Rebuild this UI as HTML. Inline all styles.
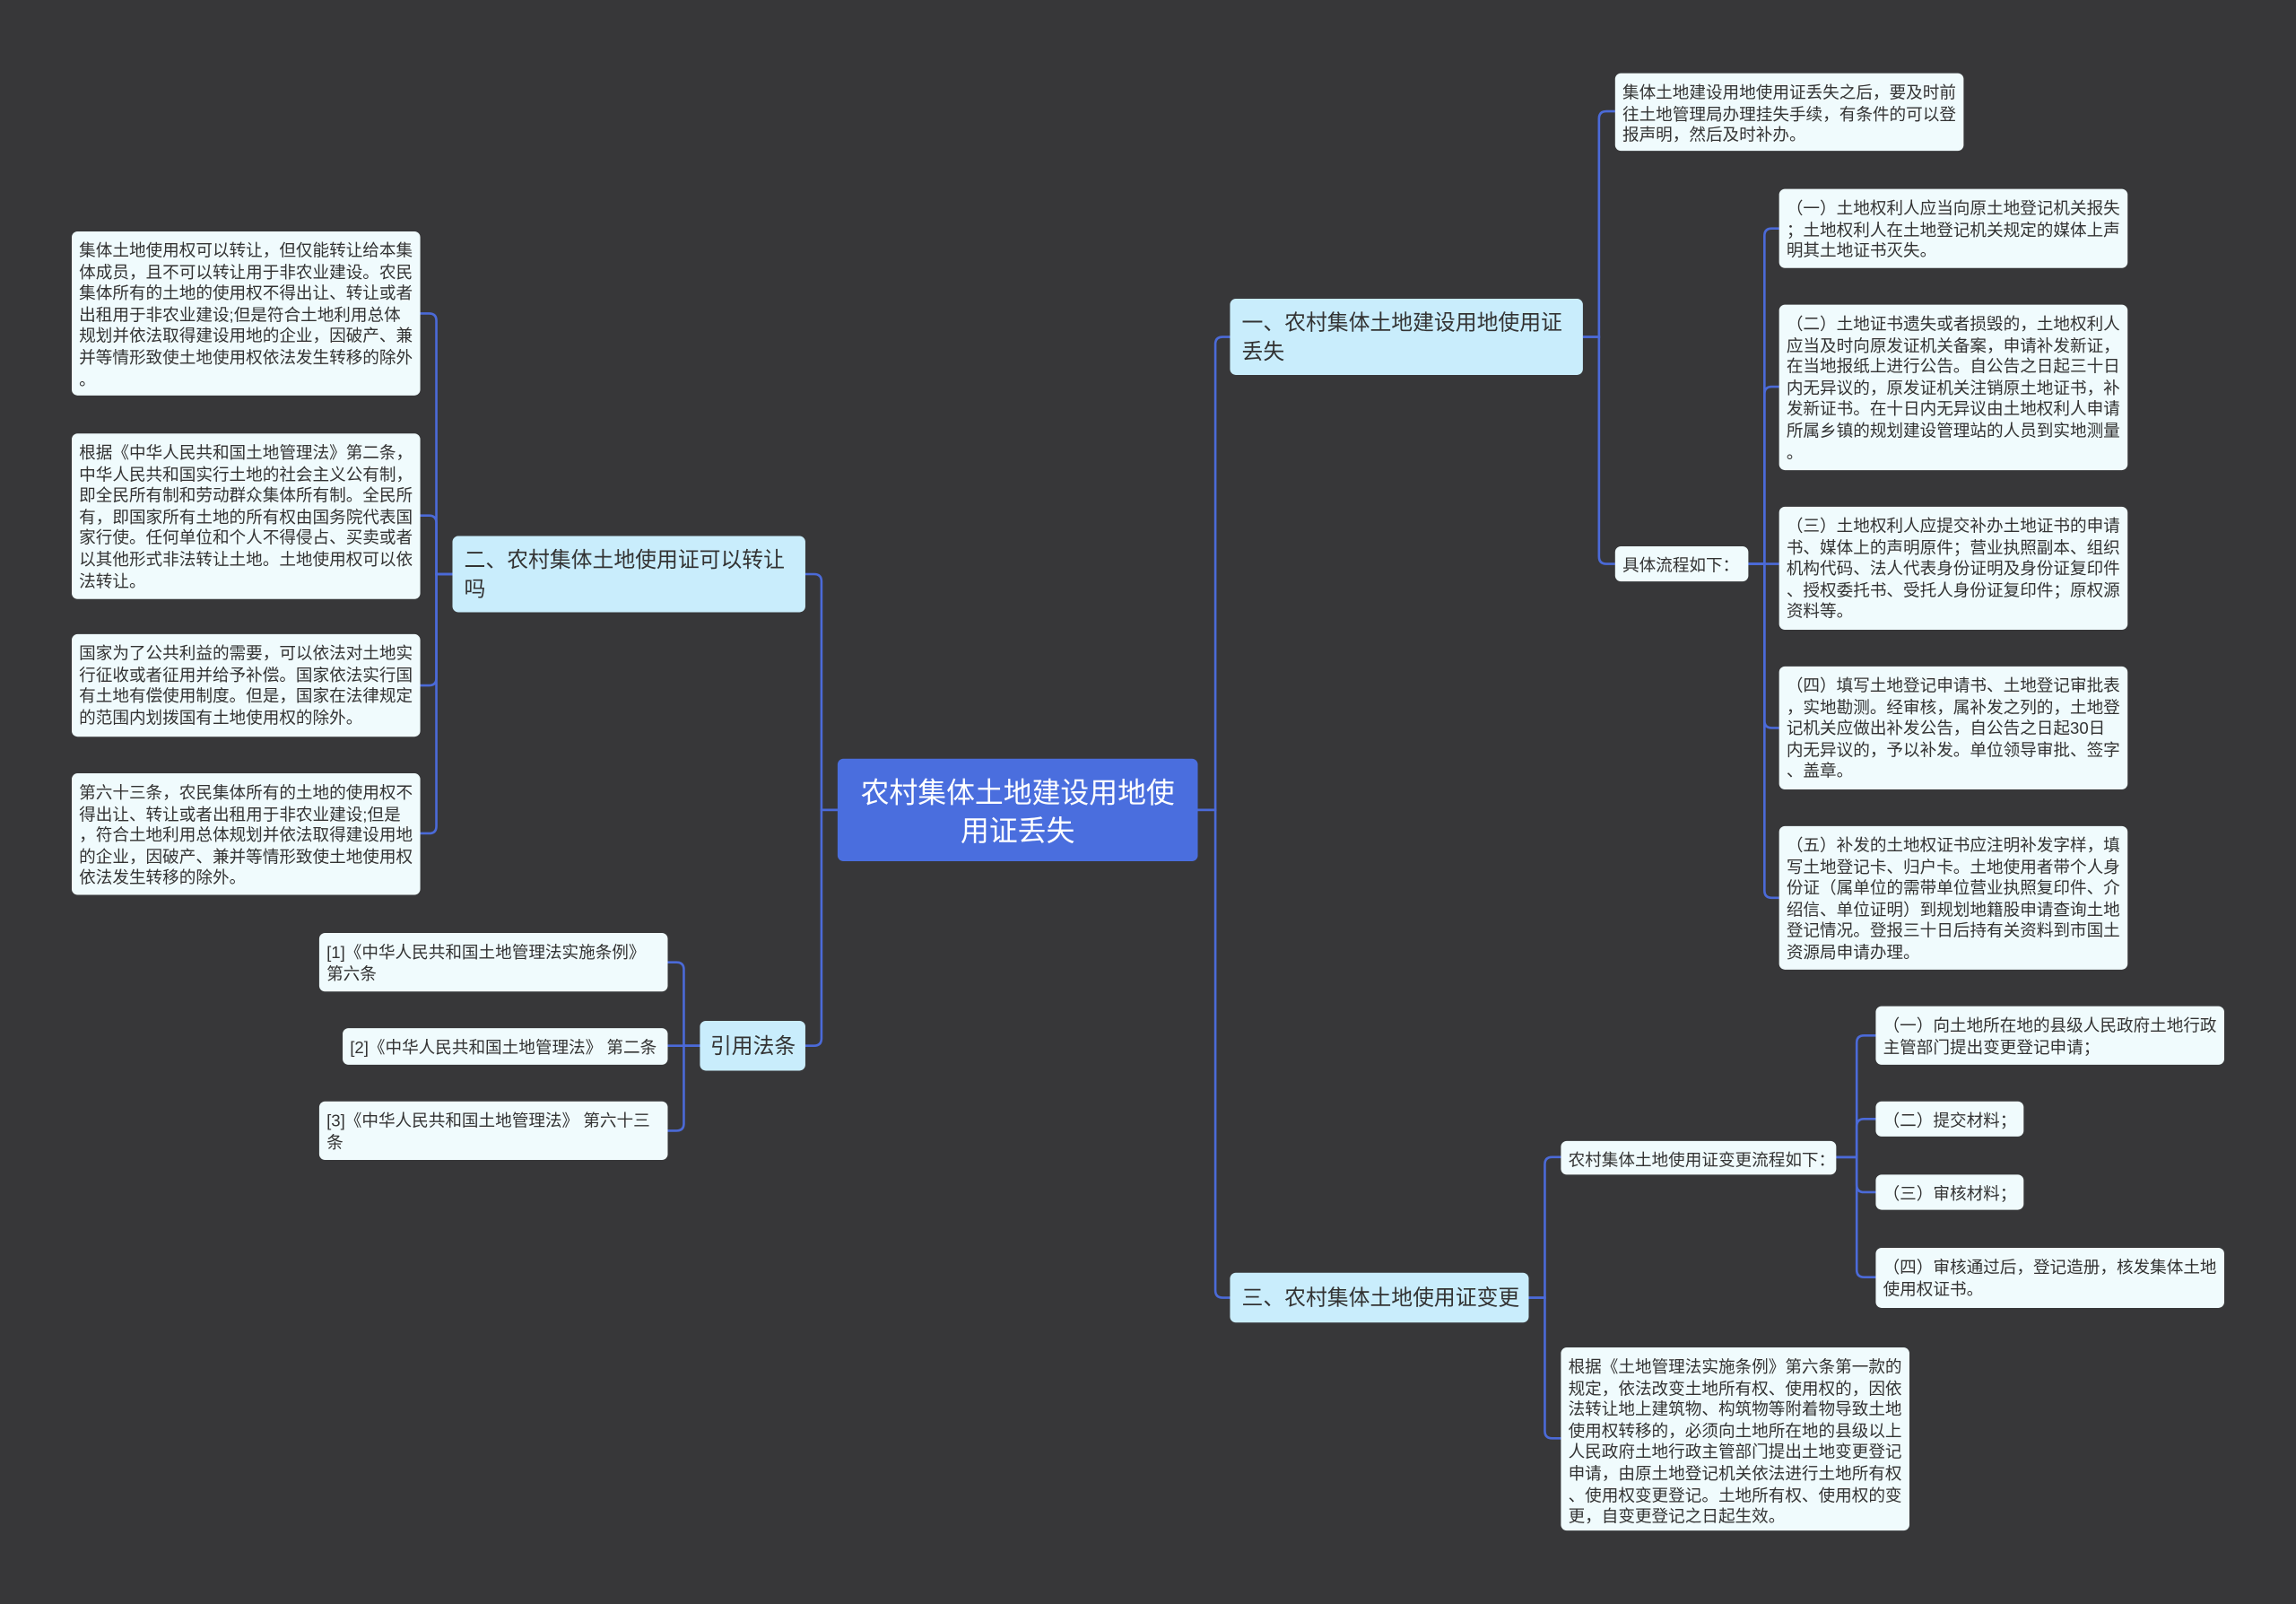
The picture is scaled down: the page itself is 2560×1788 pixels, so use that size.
<!DOCTYPE html>
<html><head><meta charset="utf-8">
<style>
html,body{margin:0;padding:0;background:#373739;}
body{width:2560px;height:1788px;overflow:hidden;}
#s{position:absolute;left:0;top:0;width:1568px;height:1095px;transform:scale(1.63265);transform-origin:0 0;font-family:"Liberation Sans","Noto Sans CJK SC",sans-serif;}
.n{position:absolute;box-sizing:border-box;white-space:nowrap;}
.l{background:#f0fbfd;border-radius:4px;color:#333;font-size:11.4px;line-height:14.6px;padding:7px 5px 3px 5px;}
.m{background:#c9edfc;border-radius:4px;color:#333;font-size:14.6px;line-height:19.5px;padding:8px 8px 4px 8px;}
.r{background:#4a6ede;border-radius:4px;color:#fff;font-size:19.5px;line-height:26px;text-align:center;padding:11px 4px 7px 4px;}
svg{position:absolute;left:0;top:0;}
path{fill:none;stroke:#4b6ad8;stroke-width:1.6;}
</style></head><body><div id="s">
<svg width="1568" height="1095">
<path d="M818 553 H830 V235 Q830 230 835 230 H840"/>
<path d="M818 553 H830 V881 Q830 886 835 886 H840"/>
<path d="M572 553 H561 V397 Q561 392 556 392 H550"/>
<path d="M572 553 H561 V709 Q561 714 556 714 H550"/>
<path d="M1081 230 H1092 V81 Q1092 76 1097 76 H1103"/>
<path d="M1081 230 H1092 V380 Q1092 385 1097 385 H1103"/>
<path d="M1194 385 H1205 V161 Q1205 156 1210 156 H1215"/>
<path d="M1194 385 H1205 V269 Q1205 264 1210 264 H1215"/>
<path d="M1194 385 H1215"/>
<path d="M1194 385 H1205 V492 Q1205 497 1210 497 H1215"/>
<path d="M1194 385 H1205 V608 Q1205 613 1210 613 H1215"/>
<path d="M309 392 H298 V219 Q298 214 293 214 H287"/>
<path d="M309 392 H298 V357 Q298 352 293 352 H287"/>
<path d="M309 392 H298 V463 Q298 468 293 468 H287"/>
<path d="M309 392 H298 V564 Q298 569 293 569 H287"/>
<path d="M478 714 H467 V662 Q467 657 462 657 H456"/>
<path d="M478 714 H456"/>
<path d="M478 714 H467 V767 Q467 772 462 772 H456"/>
<path d="M1044 886 H1055 V795 Q1055 790 1060 790 H1066"/>
<path d="M1044 886 H1055 V977 Q1055 982 1060 982 H1066"/>
<path d="M1254 790 H1268 V712 Q1268 707 1273 707 H1281"/>
<path d="M1254 790 H1268 V769 Q1268 764 1273 764 H1281"/>
<path d="M1254 790 H1268 V809 Q1268 814 1273 814 H1281"/>
<path d="M1254 790 H1268 V867 Q1268 872 1273 872 H1281"/>
</svg>

<div class="n r" style="left:572px;top:518px;width:246px;height:70px;">农村集体土地建设用地使<br>用证丢失</div>

<div class="n m" style="left:840px;top:204px;width:241px;height:52px;">一、农村集体土地建设用地使用证<br>丢失</div>
<div class="n m" style="left:309px;top:366px;width:241px;height:52px;">二、农村集体土地使用证可以转让<br>吗</div>
<div class="n m" style="left:478px;top:697px;width:72px;height:34px;padding:9px 7px 5px 7px;">引用法条</div>
<div class="n m" style="left:840px;top:869px;width:204px;height:34px;padding:9px 8px 5px 8px;">三、农村集体土地使用证变更</div>

<div class="n l" style="left:49px;top:158px;width:238px;height:112px;">集体土地使用权可以转让，但仅能转让给本集<br>体成员，且不可以转让用于非农业建设。农民<br>集体所有的土地的使用权不得出让、转让或者<br>出租用于非农业建设;但是符合土地利用总体<br>规划并依法取得建设用地的企业，因破产、兼<br>并等情形致使土地使用权依法发生转移的除外<br>。</div>
<div class="n l" style="left:49px;top:296px;width:238px;height:113px;">根据《中华人民共和国土地管理法》第二条，<br>中华人民共和国实行土地的社会主义公有制，<br>即全民所有制和劳动群众集体所有制。全民所<br>有，即国家所有土地的所有权由国务院代表国<br>家行使。任何单位和个人不得侵占、买卖或者<br>以其他形式非法转让土地。土地使用权可以依<br>法转让。</div>
<div class="n l" style="left:49px;top:433px;width:238px;height:70px;">国家为了公共利益的需要，可以依法对土地实<br>行征收或者征用并给予补偿。国家依法实行国<br>有土地有偿使用制度。但是，国家在法律规定<br>的范围内划拨国有土地使用权的除外。</div>
<div class="n l" style="left:49px;top:528px;width:238px;height:83px;">第六十三条，农民集体所有的土地的使用权不<br>得出让、转让或者出租用于非农业建设;但是<br>，符合土地利用总体规划并依法取得建设用地<br>的企业，因破产、兼并等情形致使土地使用权<br>依法发生转移的除外。</div>

<div class="n l" style="left:218px;top:637px;width:238px;height:40px;">[1]《中华人民共和国土地管理法实施条例》<br>第六条</div>
<div class="n l" style="left:234px;top:702px;width:222px;height:25px;">[2]《中华人民共和国土地管理法》 第二条</div>
<div class="n l" style="left:218px;top:752px;width:238px;height:40px;">[3]《中华人民共和国土地管理法》 第六十三<br>条</div>

<div class="n l" style="left:1103px;top:50px;width:238px;height:53px;">集体土地建设用地使用证丢失之后，要及时前<br>往土地管理局办理挂失手续，有条件的可以登<br>报声明，然后及时补办。</div>
<div class="n l" style="left:1103px;top:373px;width:91px;height:24px;">具体流程如下：</div>
<div class="n l" style="left:1215px;top:129px;width:238px;height:54px;">（一）土地权利人应当向原土地登记机关报失<br>；土地权利人在土地登记机关规定的媒体上声<br>明其土地证书灭失。</div>
<div class="n l" style="left:1215px;top:208px;width:238px;height:113px;">（二）土地证书遗失或者损毁的，土地权利人<br>应当及时向原发证机关备案，申请补发新证，<br>在当地报纸上进行公告。自公告之日起三十日<br>内无异议的，原发证机关注销原土地证书，补<br>发新证书。在十日内无异议由土地权利人申请<br>所属乡镇的规划建设管理站的人员到实地测量<br>。</div>
<div class="n l" style="left:1215px;top:346px;width:238px;height:84px;">（三）土地权利人应提交补办土地证书的申请<br>书、媒体上的声明原件；营业执照副本、组织<br>机构代码、法人代表身份证明及身份证复印件<br>、授权委托书、受托人身份证复印件；原权源<br>资料等。</div>
<div class="n l" style="left:1215px;top:455px;width:238px;height:84px;">（四）填写土地登记申请书、土地登记审批表<br>，实地勘测。经审核，属补发之列的，土地登<br>记机关应做出补发公告，自公告之日起30日<br>内无异议的，予以补发。单位领导审批、签字<br>、盖章。</div>
<div class="n l" style="left:1215px;top:564px;width:238px;height:98px;">（五）补发的土地权证书应注明补发字样，填<br>写土地登记卡、归户卡。土地使用者带个人身<br>份证（属单位的需带单位营业执照复印件、介<br>绍信、单位证明）到规划地籍股申请查询土地<br>登记情况。登报三十日后持有关资料到市国土<br>资源局申请办理。</div>

<div class="n l" style="left:1066px;top:779px;width:188px;height:23px;">农村集体土地使用证变更流程如下：</div>
<div class="n l" style="left:1281px;top:687px;width:238px;height:40px;">（一）向土地所在地的县级人民政府土地行政<br>主管部门提出变更登记申请；</div>
<div class="n l" style="left:1281px;top:752px;width:101px;height:24px;">（二）提交材料；</div>
<div class="n l" style="left:1281px;top:802px;width:101px;height:24px;">（三）审核材料；</div>
<div class="n l" style="left:1281px;top:852px;width:238px;height:41px;">（四）审核通过后，登记造册，核发集体土地<br>使用权证书。</div>
<div class="n l" style="left:1066px;top:920px;width:238px;height:125px;">根据《土地管理法实施条例》第六条第一款的<br>规定，依法改变土地所有权、使用权的，因依<br>法转让地上建筑物、构筑物等附着物导致土地<br>使用权转移的，必须向土地所在地的县级以上<br>人民政府土地行政主管部门提出土地变更登记<br>申请，由原土地登记机关依法进行土地所有权<br>、使用权变更登记。土地所有权、使用权的变<br>更，自变更登记之日起生效。</div>
</div></body></html>
